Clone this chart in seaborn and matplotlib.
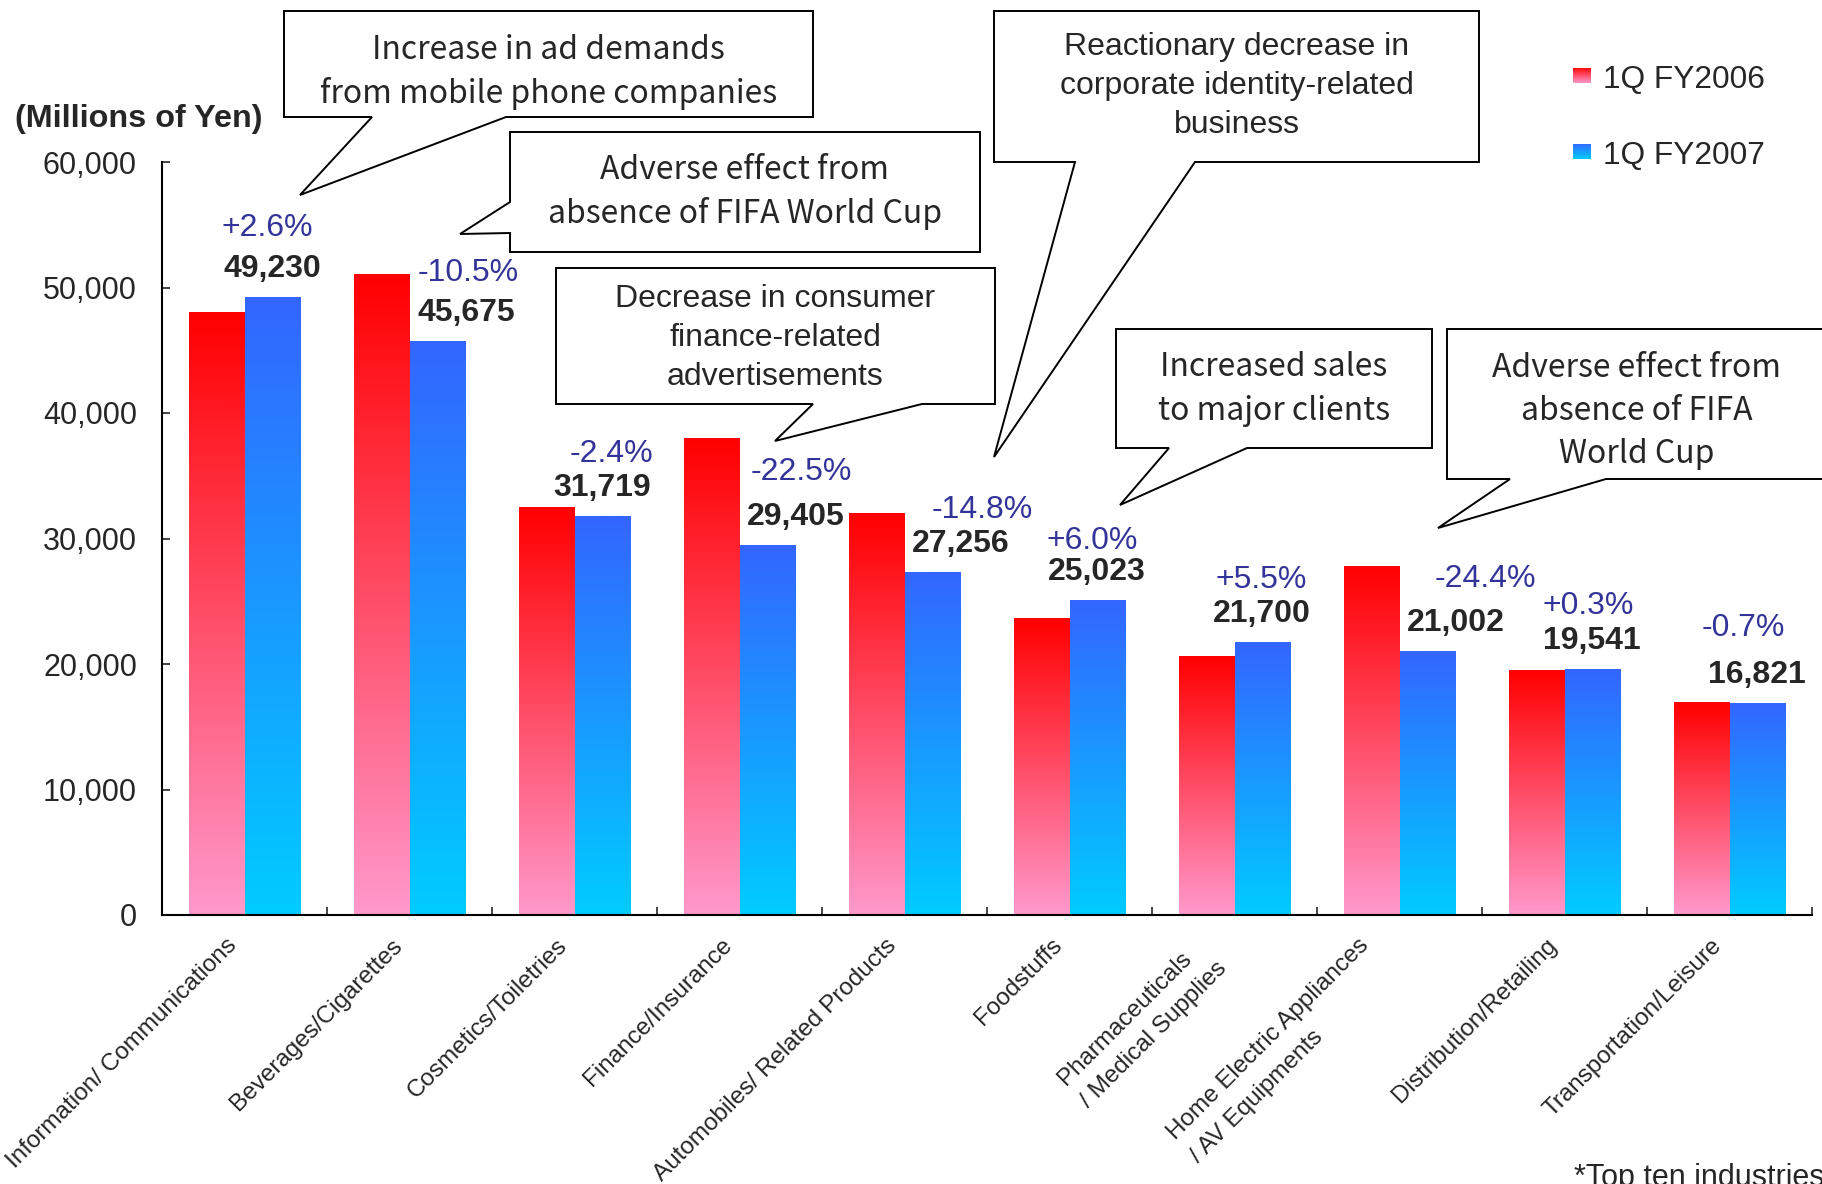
import numpy as np
import pandas as pd
import seaborn as sns
import matplotlib.pyplot as plt
from matplotlib.patches import Polygon

# data (millions of yen)
industries = ["Information/ Communications", "Beverages/Cigarettes", "Cosmetics/Toiletries",
              "Finance/Insurance", "Automobiles/ Related Products", "Foodstuffs",
              "Pharmaceuticals\n/ Medical Supplies", "Home Electric Appliances\n/ AV Equipments",
              "Distribution/Retailing", "Transportation/Leisure"]
fy2006 = [47982, 51034, 32499, 37942, 31991, 23607, 20569, 27781, 19483, 16940]
fy2007 = [49230, 45675, 31719, 29405, 27256, 25023, 21700, 21002, 19541, 16821]
change = ["+2.6%", "-10.5%", "-2.4%", "-22.5%", "-14.8%", "+6.0%", "+5.5%", "-24.4%", "+0.3%", "-0.7%"]
periods = ["1Q FY2006", "1Q FY2007"]
yticks = [0, 10000, 20000, 30000, 40000, 50000, 60000]

# hand placement of the percent labels (pixels, from group centre / blue bar top)
pct_dx = [23, 59, 37, 62, 78, 23, 27, 86, 24, 14]
pct_dy = [69, 69, 63, 74, 63, 60, 63, 72, 64, 76]

W, H = 1822, 1184
RED = [(1.0, 0.0, 0.0), (1.0, 0.6, 0.8)]
BLUE = [(0.2, 0.4, 1.0), (0.0, 0.8, 1.0)]
PCT_COL = "#333399"

sns.set_theme(style="white")
plt.rcParams["font.family"] = ["Liberation Sans", "DejaVu Sans"]
GOTHIC = ["Noto Sans CJK JP", "DejaVu Sans"]


def fp(x, y):
    return (x / W, 1 - y / H)


def grad(top, bottom, n=256):
    t = np.linspace(0, 1, n)[:, None]
    c = (1 - t) * np.array(top) + t * np.array(bottom)
    return c[:, None, :]


df = pd.DataFrame({
    "industry": industries * 2,
    "value": fy2006 + fy2007,
    "period": [periods[0]] * 10 + [periods[1]] * 10,
})

fig = plt.figure(figsize=(W / 100, H / 100), dpi=100)
ax = fig.add_axes([162 / W, 1 - 915 / H, (1812 - 162) / W, (915 - 162) / H])

sns.barplot(data=df, x="industry", y="value", hue="period", palette=[RED[0], BLUE[0]],
            width=0.67, saturation=1, legend=False, ax=ax)

# swap flat bars for vertical gradients
for cont, cols in zip(ax.containers, [RED, BLUE]):
    img = grad(*cols)
    for bar in cont:
        x0, w, h = bar.get_x(), bar.get_width(), bar.get_height()
        ax.imshow(img, extent=[x0, x0 + w, 0, h], aspect="auto", origin="upper", zorder=2)
        bar.set_visible(False)

ax.set_xlim(-0.5, 9.5)
ax.set_ylim(0, 60000)
ax.set_xlabel("")
ax.set_ylabel("")

ax.set_yticks(yticks)
ax.set_yticklabels([f"{v:,}" for v in yticks], fontsize=22)
ax.set_xticks(np.arange(-0.5, 10, 1))
ax.set_xticklabels([])
ax.tick_params(axis="y", direction="in", length=6, width=1.2, pad=18, left=True)
ax.tick_params(axis="x", direction="in", length=6, width=1.2, bottom=True)
for s in ["top", "right"]:
    ax.spines[s].set_visible(False)
for s in ["left", "bottom"]:
    ax.spines[s].set_color("black")
    ax.spines[s].set_linewidth(1.5)
ax.grid(False)

# category labels: rotated, right edge of box at group centre
for i, lab in enumerate(industries):
    ax.annotate(lab, xy=(i - 0.02, 0), xycoords=("data", "axes fraction"), xytext=(0, -14),
                textcoords="offset points", rotation=45, ha="right", va="top",
                multialignment="left", fontsize=17.5, linespacing=1.6)

# value and change labels
blue_bars = ax.containers[1]
for i, v in enumerate(fy2007):
    bar = blue_bars[i]
    xc = bar.get_x() + bar.get_width() / 2
    if fy2006[i] - v > 2000:
        xc += 0.176
    ax.annotate(f"{v:,}", xy=(xc, v), xytext=(0, 20.5), textcoords="offset points",
                ha="center", va="center", fontsize=23, fontweight="bold", zorder=5)
    ax.annotate(change[i], xy=(i, v), xytext=(pct_dx[i] * 0.72, pct_dy[i] * 0.72),
                textcoords="offset points", ha="center", va="center", fontsize=23,
                color=PCT_COL, zorder=5)

# callout boxes (figure pixels)
callouts = [
    dict(box=(284, 11, 813, 117), side="bottom", base=(372, 506), tip=(300, 195),
         text="Increase in ad demands\nfrom mobile phone companies", font=GOTHIC, cy=72),
    dict(box=(510, 132, 980, 252), side="left", base=(202, 233), tip=(460, 234),
         text="Adverse effect from\nabsence of FIFA World Cup", font=GOTHIC, cy=192),
    dict(box=(556, 268, 995, 404), side="bottom", base=(813, 922), tip=(775, 441),
         text="Decrease in consumer\nfinance-related\nadvertisements", font=None, cy=338),
    dict(box=(994, 11, 1479, 162), side="bottom", base=(1075, 1195), tip=(994, 457),
         text="Reactionary decrease in\ncorporate identity-related\nbusiness", font=None, cy=86),
    dict(box=(1116, 329, 1432, 448), side="bottom", base=(1169, 1247), tip=(1120, 505),
         text="Increased sales\nto major clients", font=GOTHIC, cy=389),
    dict(box=(1447, 329, 1826, 479), side="bottom", base=(1510, 1606), tip=(1438, 528),
         text="Adverse effect from\nabsence of FIFA\nWorld Cup", font=GOTHIC, cy=411),
]
for c in callouts:
    L, T, R, B = c["box"]
    b1, b2 = c["base"]
    if c["side"] == "bottom":
        pts = [(L, T), (R, T), (R, B), (b2, B), c["tip"], (b1, B), (L, B)]
    else:
        pts = [(L, T), (R, T), (R, B), (L, B), (L, b2), c["tip"], (L, b1)]
    poly = Polygon([fp(*p) for p in pts], closed=True, transform=fig.transFigure,
                   facecolor="white", edgecolor="black", linewidth=1.4, zorder=10)
    fig.add_artist(poly)
    if c["font"]:
        kw = dict(family=c["font"], fontsize=23, linespacing=1.45)
    else:
        kw = dict(fontsize=23, linespacing=1.37)
    fig.text(*fp((L + min(R, 1826)) / 2, c["cy"]), c["text"], ha="center", va="center",
             zorder=11, **kw)

# legend with gradient swatches
for k, (cols, yc) in enumerate(zip([RED, BLUE], [75.5, 151.5])):
    sw = fig.add_axes([1573 / W, 1 - (yc + 8) / H, 18 / W, 16 / H])
    sw.imshow(grad(*cols), aspect="auto")
    sw.set_axis_off()
    fig.text(*fp(1603, yc + 4), periods[k], ha="left", va="center", fontsize=22.8)

fig.text(*fp(15, 119), "(Millions of Yen)", ha="left", va="center", fontsize=23.3,
         fontweight="bold")
fig.text(*fp(1574, 1163), "*Top ten industries", ha="left", va="top", fontsize=22)

fig.savefig("out.png", dpi=100)
